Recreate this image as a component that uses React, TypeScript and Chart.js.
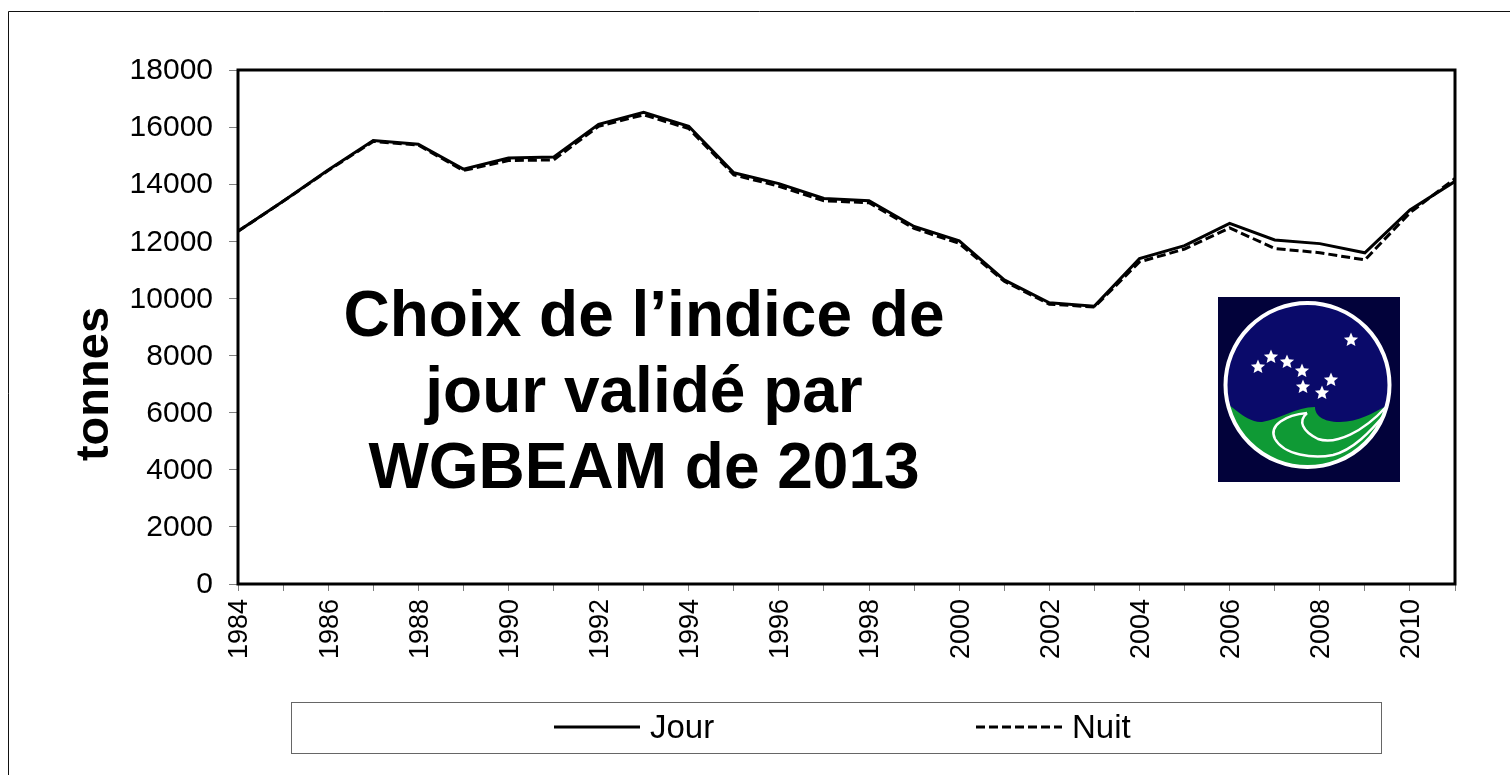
import React, { useEffect, useRef } from "react";
import { Chart, registerables } from "chart.js";

Chart.register(...registerables);

const years = ["1984","1985","1986","1987","1988","1989","1990","1991","1992","1993","1994","1995","1996","1997","1998","1999","2000","2001","2002","2003","2004","2005","2006","2007","2008","2009","2010","2011"];
const jour = [12350,13400,14500,15530,15400,14530,14920,14950,16100,16520,16030,14400,14020,13500,13420,12520,12020,10650,9850,9730,11400,11850,12630,12050,11920,11600,13100,14100];
const nuit = [12350,13400,14480,15500,15370,14480,14830,14850,16030,16430,15950,14330,13930,13420,13350,12450,11930,10600,9800,9700,11280,11730,12470,11750,11600,11350,13000,14200];
const annotationLines = ["Choix de l’indice de", "jour validé par", "WGBEAM de 2013"];
const yAxisTitle = "tonnes";
const FONT = '"Liberation Sans", Arial, sans-serif';

function star(ctx: CanvasRenderingContext2D, x: number, y: number, r: number) {
  ctx.beginPath();
  for (let i = 0; i < 10; i++) {
    const a = -Math.PI / 2 + (i * Math.PI) / 5;
    const rr = i % 2 ? r * 0.45 : r;
    ctx.lineTo(x + Math.cos(a) * rr, y + Math.sin(a) * rr);
  }
  ctx.closePath();
  ctx.fill();
}

function drawLogo(ctx: CanvasRenderingContext2D) {
  ctx.save();
  ctx.translate(1218, 297);
  ctx.fillStyle = "#02023a";
  ctx.fillRect(0, 0, 182, 185);
  const cx = 89.5, cy = 88, R = 82;
  ctx.save();
  ctx.beginPath();
  ctx.arc(cx, cy, R, 0, Math.PI * 2);
  ctx.clip();
  ctx.fillStyle = "#0a0a6a";
  ctx.fillRect(0, 0, 182, 185);
  ctx.fillStyle = "#0f9a35";
  ctx.beginPath();
  ctx.moveTo(0, 100);
  ctx.lineTo(15, 111);
  ctx.bezierCurveTo(26, 120, 36, 126, 44, 125);
  ctx.bezierCurveTo(62, 122, 78, 110, 97, 110);
  ctx.bezierCurveTo(97, 118, 104, 125, 122, 125);
  ctx.bezierCurveTo(140, 125, 155, 116, 170, 108);
  ctx.lineTo(182, 185);
  ctx.lineTo(0, 185);
  ctx.closePath();
  ctx.fill();
  ctx.strokeStyle = "#fff";
  ctx.lineWidth = 2.5;
  ctx.beginPath();
  ctx.moveTo(89, 116);
  ctx.bezierCurveTo(68, 118, 50, 128, 57, 142);
  ctx.bezierCurveTo(66, 158, 95, 162, 115, 158);
  ctx.bezierCurveTo(135, 153, 152, 135, 168, 116);
  ctx.stroke();
  ctx.beginPath();
  ctx.moveTo(89, 116);
  ctx.bezierCurveTo(80, 124, 84, 134, 100, 142);
  ctx.bezierCurveTo(118, 148, 145, 135, 168, 110);
  ctx.stroke();
  ctx.restore();
  ctx.strokeStyle = "#fff";
  ctx.lineWidth = 4;
  ctx.beginPath();
  ctx.arc(cx, cy, R, 0, Math.PI * 2);
  ctx.stroke();
  ctx.fillStyle = "#fff";
  const stars = [[40,70],[53,60],[69,65],[84,74],[85,90],[113,83],[104,96],[133,43]];
  stars.forEach(([x, y]) => star(ctx, x, y, 7.5));
  ctx.restore();
}

const decorations = {
  id: "decorations",
  beforeDraw(chart: any) {
    const ctx = chart.ctx as CanvasRenderingContext2D;
    ctx.save();
    ctx.fillStyle = "#fff";
    ctx.fillRect(0, 0, chart.width, chart.height);
    ctx.strokeStyle = "#111";
    ctx.lineWidth = 1;
    ctx.beginPath();
    ctx.moveTo(8.5, 775);
    ctx.lineTo(8.5, 11.5);
    ctx.lineTo(1510, 11.5);
    ctx.stroke();
    ctx.restore();
  },
  afterDatasetsDraw(chart: any) {
    const ctx = chart.ctx as CanvasRenderingContext2D;
    const a = chart.chartArea;
    ctx.save();
    ctx.strokeStyle = "#000";
    ctx.lineWidth = 3;
    ctx.strokeRect(a.left, a.top, a.right - a.left, a.bottom - a.top);

    ctx.fillStyle = "#000";
    ctx.font = `bold 64px ${FONT}`;
    ctx.textAlign = "center";
    ctx.textBaseline = "alphabetic";
    annotationLines.forEach((line, i) => ctx.fillText(line, 644, 336 + i * 76));

    ctx.save();
    ctx.translate(108, 384);
    ctx.rotate(-Math.PI / 2);
    ctx.font = `bold 47px ${FONT}`;
    ctx.fillText(yAxisTitle, 0, 0);
    ctx.restore();

    drawLogo(ctx);

    ctx.strokeStyle = "#666";
    ctx.lineWidth = 1;
    ctx.strokeRect(291.5, 702.5, 1090, 51);
    ctx.font = `33px ${FONT}`;
    ctx.textAlign = "left";
    ctx.textBaseline = "middle";
    ctx.strokeStyle = "#000";
    ctx.lineWidth = 3;
    chart.data.datasets.forEach((d: any, i: number) => {
      const x0 = i === 0 ? 554 : 976;
      ctx.setLineDash(d.borderDash || []);
      ctx.beginPath();
      ctx.moveTo(x0, 727);
      ctx.lineTo(x0 + 86, 727);
      ctx.stroke();
      ctx.setLineDash([]);
      ctx.fillText(d.label, x0 + 96, 729);
    });
    ctx.restore();
  },
};

export default function App() {
  const ref = useRef<HTMLCanvasElement>(null);
  useEffect(() => {
    const chart = new Chart(ref.current!, {
      type: "line",
      data: {
        labels: years,
        datasets: [
          { label: "Jour", data: jour, borderColor: "#000", borderWidth: 3, pointRadius: 0, tension: 0, order: 1 },
          { label: "Nuit", data: nuit, borderColor: "#000", borderWidth: 3, borderDash: [9, 4], pointRadius: 0, tension: 0, order: 2 },
        ],
      },
      options: {
        responsive: false,
        animation: false,
        layout: { padding: { top: 70, right: 55, left: 0, bottom: 0 } },
        plugins: { legend: { display: false }, tooltip: { enabled: false }, title: { display: false } },
        scales: {
          x: {
            type: "category",
            offset: false,
            afterFit(s: any) { s.height = 191; },
            grid: { drawOnChartArea: false, drawTicks: true, tickLength: 7, tickColor: "#808080", lineWidth: 1 },
            border: { display: false },
            ticks: {
              autoSkip: false,
              maxRotation: 90,
              minRotation: 90,
              color: "#000",
              padding: 8,
              labelOffset: 2,
              font: { family: FONT, size: 27 },
              callback(_v: any, i: number) { return i % 2 === 0 ? years[i] : ""; },
            },
          },
          y: {
            min: 0,
            max: 18000,
            afterFit(s: any) { s.width = 238; },
            grid: { drawOnChartArea: false, drawTicks: true, tickLength: 9, tickColor: "#808080", lineWidth: 1 },
            border: { display: false },
            ticks: { stepSize: 2000, color: "#000", padding: 16, labelOffset: 1, font: { family: FONT, size: 30 }, callback: (v: any) => String(v) },
          },
        },
      },
      plugins: [decorations],
    } as any);
    return () => chart.destroy();
  }, []);
  return (
    <div style={{ position: "fixed", left: 0, top: 0, width: 1510, height: 775 }}>
      <canvas ref={ref} width={1510} height={775} style={{ display: "block" }} />
    </div>
  );
}
